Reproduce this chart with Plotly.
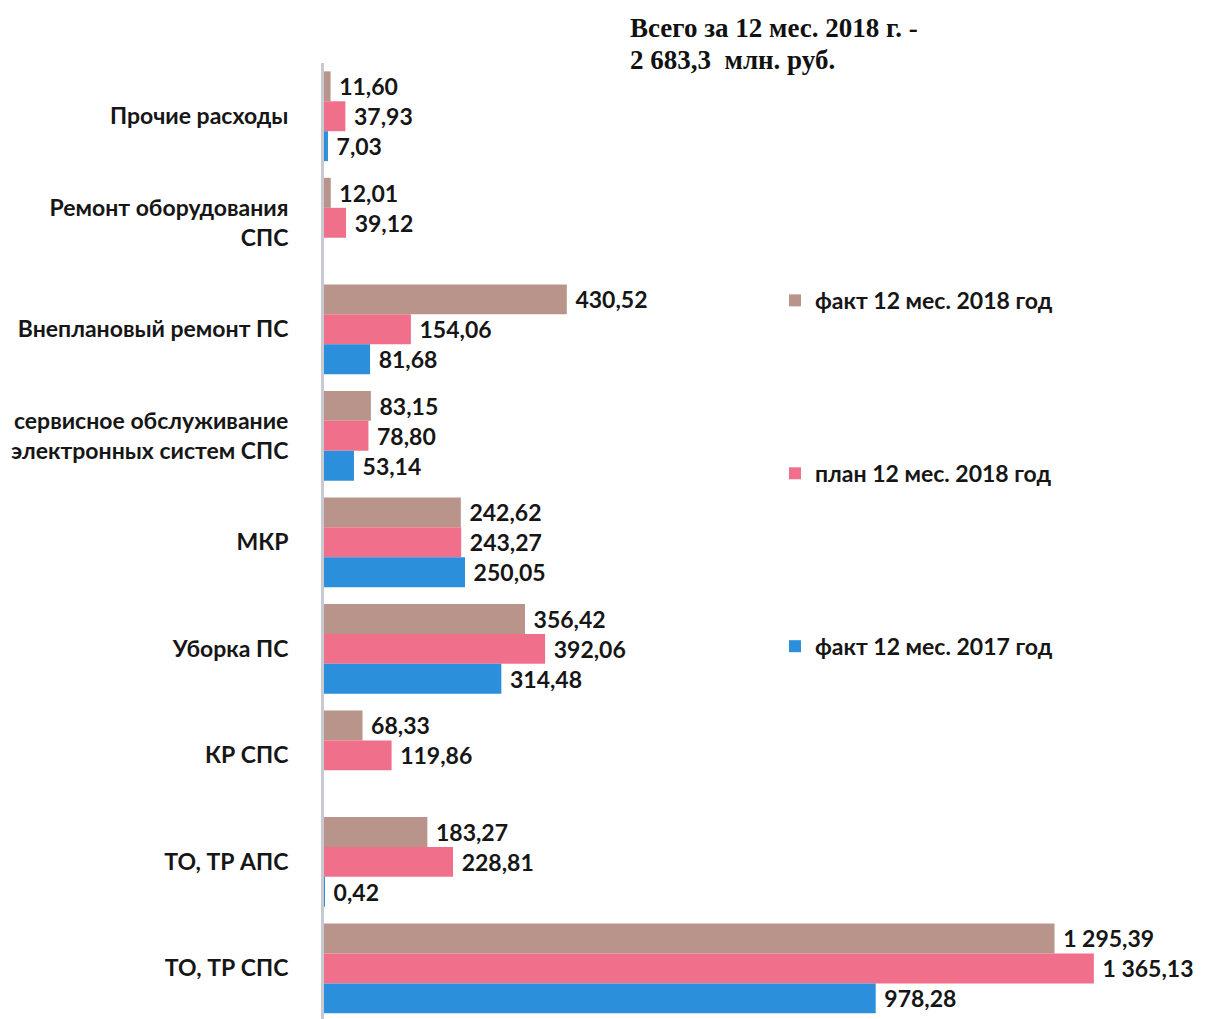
import plotly.graph_objects as go

categories = [
    "Прочие расходы",
    "Ремонт оборудования<br>СПС",
    "Внеплановый ремонт ПС",
    "сервисное обслуживание<br>электронных систем СПС",
    "МКР",
    "Уборка ПС",
    "КР СПС",
    "ТО, ТР АПС",
    "ТО, ТР СПС",
]
fact_2018 = [11.60, 12.01, 430.52, 83.15, 242.62, 356.42, 68.33, 183.27, 1295.39]
plan_2018 = [37.93, 39.12, 154.06, 78.80, 243.27, 392.06, 119.86, 228.81, 1365.13]
fact_2017 = [7.03, None, 81.68, 53.14, 250.05, 314.48, None, 0.42, 978.28]

series = [
    ("факт 12 мес. 2018 год", fact_2018, "#b8948a"),
    ("план 12 мес. 2018 год", plan_2018, "#f0708c"),
    ("факт 12 мес. 2017 год", fact_2017, "#2c8fdc"),
]

LABEL_FONT = "Lato, 'Open Sans', sans-serif"
TEXT_STYLE = {"family": LABEL_FONT, "size": 23, "color": "#161616", "weight": "bold"}
TITLE_STYLE = {"family": "Liberation Serif, serif", "size": 27, "color": "#111111", "weight": "bold"}

fig = go.Figure()
for i, (name, values, color) in enumerate(series):
    fig.add_trace(
        go.Bar(
            y=categories,
            x=values,
            orientation="h",
            name=name,
            legendgroup=str(i),
            marker={"color": color, "line": {"width": 0}},
            texttemplate=" %{x:,.2f}",
            textposition="outside",
            textfont=TEXT_STYLE,
            cliponaxis=False,
        )
    )

fig.update_layout(
    width=1205,
    height=1019,
    margin={"l": 316, "r": 60, "t": 55, "b": 0},
    paper_bgcolor="white",
    plot_bgcolor="white",
    separators=", ",
    barmode="group",
    bargap=0.157,
    bargroupgap=0.0,
    showlegend=True,
    legend={
        "x": 0.544,
        "y": 0.776,
        "xanchor": "left",
        "yanchor": "top",
        "tracegroupgap": 140,
        "font": TEXT_STYLE,
        "bgcolor": "rgba(0,0,0,0)",
        "itemwidth": 30,
    },
    annotations=[
        {
            "text": "Всего за 12 мес. 2018 г. -",
            "xref": "paper",
            "yref": "paper",
            "x": 0.367,
            "y": 1.036,
            "xanchor": "left",
            "yanchor": "middle",
            "showarrow": False,
            "font": TITLE_STYLE,
        },
        {
            "text": "2 683,3  млн. руб.",
            "xref": "paper",
            "yref": "paper",
            "x": 0.367,
            "y": 1.003,
            "xanchor": "left",
            "yanchor": "middle",
            "showarrow": False,
            "font": TITLE_STYLE,
        },
    ],
)

fig.update_xaxes(range=[0, 1470], visible=False, showgrid=False, zeroline=False)
fig.update_yaxes(
    autorange=False,
    range=[8.55, -0.5],
    showline=True,
    linecolor="#c9c9d2",
    linewidth=3,
    showgrid=False,
    ticks="",
    ticklabelstandoff=28,
    tickfont=TEXT_STYLE,
)

fig.write_html("out.html")
